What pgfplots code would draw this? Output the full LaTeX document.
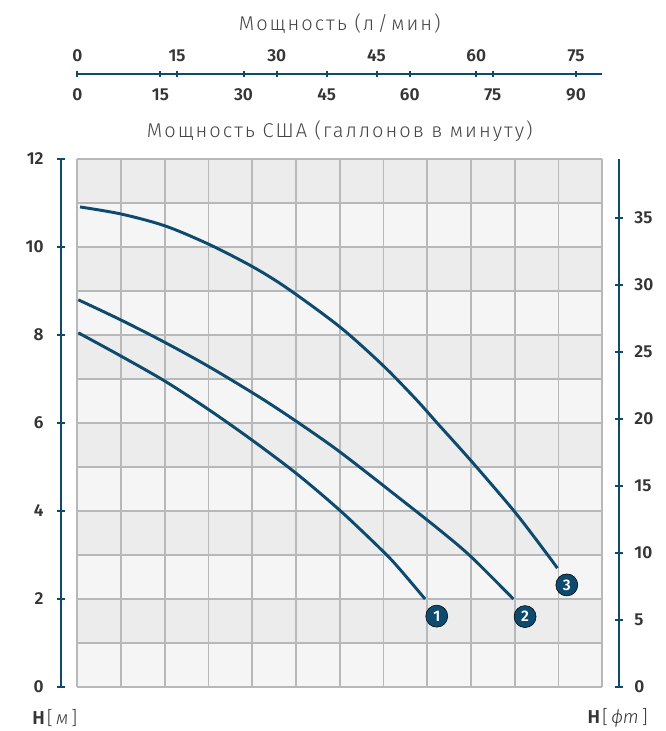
\documentclass[border=0pt]{standalone}
\usepackage{fontspec}
\setmainfont{Fira Sans}[BoldFont={Fira Sans SemiBold}]
\newfontfamily\lightfont{Fira Sans Light}
\newfontfamily\titlefont{Fira Sans Light}[LetterSpace=10]
\usepackage{pgfplots}
\pgfplotsset{compat=1.18}

\definecolor{navy}{HTML}{0D4A6E}
\definecolor{rowlight}{HTML}{F5F5F5}
\definecolor{rowdark}{HTML}{ECECEC}
\definecolor{gridgray}{HTML}{B6B8BA}
\definecolor{numgray}{HTML}{353535}
\definecolor{titlegray}{HTML}{454545}

\pgfplotsset{
  numaxis/.style={
    scale only axis,
    tick align=outside,
    axis line style={draw=navy, line width=1.5pt},
    tick style={draw=navy, line width=1.5pt},
    ticklabel style={font=\bfseries\fontsize{13}{13}\selectfont, text=numgray},
    /pgf/number format/assume math mode=true,
  },
  noarrows/.style={
    axis line style={-},
    x axis line style={-}, y axis line style={-},
    every inner x axis line/.append style={-},
    every outer x axis line/.append style={-},
    every inner y axis line/.append style={-},
    every outer y axis line/.append style={-},
  },
}

\begin{document}
\begin{tikzpicture}
% page frame (666 x 731 px, 1 px = 0.75 pt)
\path (0,0) rectangle (499.5pt,548.25pt);

% row shading
\begin{axis}[at={(57.975pt,33pt)}, anchor=south west, scale only axis,
  width=393.75pt, height=396pt, xmin=0, xmax=12, ymin=0, ymax=12, hide axis]
  \pgfplotsinvokeforeach{0,2,...,10}{
    \fill[rowlight] (axis cs:0,#1) rectangle (axis cs:12,#1+1);
    \fill[rowdark] (axis cs:0,#1+1) rectangle (axis cs:12,#1+2);
  }
\end{axis}

% grid and curves (x in US gpm, y in m)
\begin{axis}[at={(57.975pt,33pt)}, anchor=south west, scale only axis,
  width=393.75pt, height=396pt, xmin=0, xmax=94.75, ymin=0, ymax=12,
  xtick={0,7.8958,15.7917,23.6875,31.5833,39.4792,47.375,55.2708,63.1667,71.0625,78.9583,86.8542,94.75},
  ytick={0,1,...,12}, xticklabels={}, yticklabels={}, major tick length=0pt,
  axis line style={draw=none}, grid=major,
  grid style={draw=gridgray, line width=1.3pt}, clip=false]
  \addplot[navy, line width=2.2pt, smooth] coordinates {
    (0.18,8.05) (7.89,7.52) (15.83,6.95) (23.77,6.30) (31.66,5.60)
    (39.66,4.84) (47.60,3.99) (55.37,3.06) (58.25,2.67) (62.76,2.0)};
  \addplot[navy, line width=2.2pt, smooth] coordinates {
    (0.18,8.80) (7.89,8.34) (15.83,7.83) (23.77,7.28) (32.98,6.58)
    (40.2,5.98) (47.42,5.34) (58.25,4.28) (65.47,3.56) (71.07,2.96) (78.7,2.0)};
  \addplot[navy, line width=2.2pt, smooth] coordinates {
    (0.49,10.91) (7.89,10.75) (15.83,10.48) (23.77,10.06) (31.66,9.55)
    (37.91,9.06) (47.42,8.18) (55.23,7.30) (61.26,6.52) (64.87,6.01)
    (71.07,5.14) (79.01,3.97) (85.02,2.98) (86.64,2.70)};
  \addplot[only marks, mark=*, mark size=8.25pt, mark options={fill=navy, draw=none},
    nodes near coords, point meta=explicit symbolic,
    nodes near coords style={anchor=center, text=white, font=\bfseries\fontsize{11.5}{11.5}\selectfont}]
    table[meta=lab] {
    x y lab
    64.87 1.61 1
    80.81 1.60 2
    88.34 2.32 3
  };
\end{axis}

% left axis (m)
\begin{axis}[numaxis, at={(45.75pt,33pt)}, anchor=south west,
  width=1pt, height=396pt, xmin=0, xmax=1, ymin=0, ymax=12,
  axis y line=left, hide x axis, ytick={0,2,...,12}, major tick length=6pt,
  yticklabel style={xshift=-6.5pt}, noarrows]
\end{axis}

% right axis (ft)
\begin{axis}[numaxis, at={(464.25pt,33pt)}, anchor=south east,
  width=1pt, height=396pt, xmin=0, xmax=1, ymin=0, ymax=39.37,
  axis y line=right, hide x axis, ytick={0,5,...,35}, major tick length=6pt,
  yticklabel pos=right, yticklabel style={xshift=5pt}, noarrows]
\end{axis}

% top axis, lower scale (US gpm)
\begin{axis}[numaxis, at={(57.975pt,492.75pt)}, anchor=south west,
  width=393.75pt, height=1pt, xmin=0, xmax=94.75, ymin=0, ymax=1,
  axis x line=bottom, hide y axis, xtick={0,15,...,90}, major tick length=4.5pt,
  xticklabel style={yshift=-5pt},
  xlabel={Мощность США (галлонов в минуту)},
  xlabel style={at={(axis description cs:0.5,0)}, anchor=center, yshift=-42.75pt,
    font=\titlefont\fontsize{15}{15}\selectfont, text=titlegray}, noarrows]
\end{axis}

% top axis, upper scale (l/min)
\begin{axis}[numaxis, at={(57.975pt,492.75pt)}, anchor=north west,
  width=393.75pt, height=1pt, xmin=0, xmax=78.96, ymin=0, ymax=1,
  axis x line=top, hide y axis, xtick={0,15,...,75}, major tick length=4.5pt,
  xticklabel style={yshift=3.5pt},
  xlabel={Мощность (л\,/\,мин)},
  xlabel style={at={(axis description cs:0.5,1)}, anchor=center, yshift=37.5pt,
    font=\titlefont\fontsize{15}{15}\selectfont, text=titlegray}, noarrows]
\end{axis}

% unit labels
\node[anchor=west, inner sep=0pt, text=numgray] at (24pt,9.75pt)
  {{\bfseries\fontsize{14}{14}\selectfont H}\,{\lightfont\fontsize{14}{14}\selectfont [\,\textit{м}\,]}};
\node[anchor=east, inner sep=0pt, text=numgray] at (486pt,9.75pt)
  {{\bfseries\fontsize{14}{14}\selectfont H}\,{\lightfont\fontsize{14}{14}\selectfont [\,\textit{ϕm}\,]}};
\end{tikzpicture}
\end{document}
